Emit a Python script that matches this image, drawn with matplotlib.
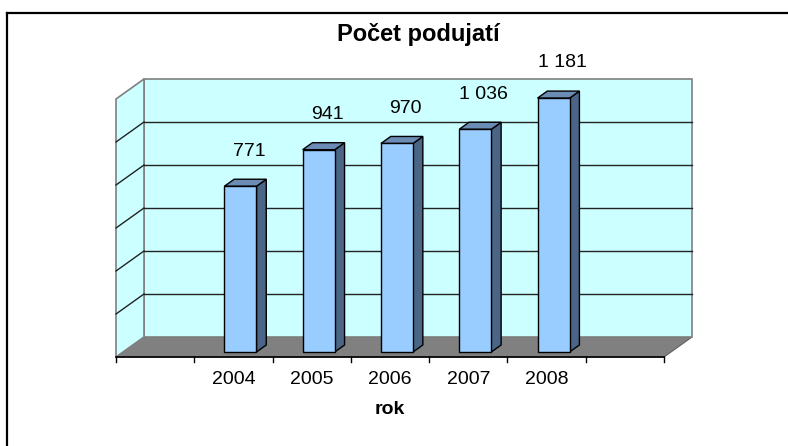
import matplotlib
matplotlib.use("Agg")
import matplotlib.pyplot as plt
from matplotlib.patches import Polygon
from matplotlib.lines import Line2D

plt.rcParams["font.family"] = ["Liberation Sans", "DejaVu Sans"]

title = "Počet podujatí"
x_title = "rok"
years = ["", "2004", "2005", "2006", "2007", "2008", ""]
counts = [None, 771, 941, 970, 1036, 1181, None]
labels = ["", "771", "941", "970", "1 036", "1 181", ""]
y_max = 1200
y_step = 200

W, H = 788, 446
fig = plt.figure(figsize=(W / 100, H / 100), dpi=100)

# back wall of the 3d box, in pixels
bx0, bx1, by0, by1 = 144, 692, 79, 337
ax = fig.add_axes([bx0 / W, 1 - by1 / H, (bx1 - bx0) / W, (by1 - by0) / H])
n = len(years)
ax.set_xlim(-0.5, n - 0.5)
ax.set_ylim(0, y_max)
ax.axis("off")

# depth offset: front plane is 28 px left and 20 px down of back wall
DX = -28 / ((bx1 - bx0) / n)
DY = -20 / (by1 - by0) * y_max


def p(x, v, t):
    return (x + DX * t, v + DY * t)


wall = "#CCFFFF"
edge = "#808080"
x0, x1 = -0.5, n - 0.5

# floor
ax.add_patch(Polygon([p(x0, 0, 0), p(x1, 0, 0), p(x1, 0, 1), p(x0, 0, 1)],
                     closed=True, fc="#808080", ec="#606060", lw=0.8,
                     clip_on=False, zorder=1))
# back wall
ax.add_patch(Polygon([p(x0, 0, 0), p(x1, 0, 0), p(x1, y_max, 0), p(x0, y_max, 0)],
                     closed=True, fc=wall, ec=edge, lw=1.2, clip_on=False, zorder=1))
# left wall
ax.add_patch(Polygon([p(x0, 0, 0), p(x0, y_max, 0), p(x0, y_max, 1), p(x0, 0, 1)],
                     closed=True, fc=wall, ec=edge, lw=1.2, clip_on=False, zorder=1))

# gridlines
for v in range(y_step, y_max, y_step):
    ax.plot([x0, x1], [v, v], color="#222222", lw=1, clip_on=False, zorder=2)
    a, b = p(x0, v, 0), p(x0, v, 1)
    ax.plot([a[0], b[0]], [a[1], b[1]], color="#222222", lw=1, clip_on=False, zorder=2)

# category axis on floor front edge
a, b = p(x0, 0, 1), p(x1, 0, 1)
ax.plot([a[0], b[0]], [a[1], b[1]], color="black", lw=1.2, clip_on=False, zorder=3)
tick = 5 / (by1 - by0) * y_max
for i in range(n + 1):
    tx, ty = p(i - 0.5, 0, 1)
    ax.plot([tx, tx], [ty, ty - tick], color="black", lw=1, clip_on=False, zorder=3)

# bars
tf, tb, hw = 0.75, 0.4, 0.205
front_c, side_c, top_c = "#99CCFF", "#4A6585", "#6B8CB5"
for i, v in enumerate(counts):
    if v is None:
        continue
    l, r = i - hw, i + hw
    front = [p(l, 0, tf), p(r, 0, tf), p(r, v, tf), p(l, v, tf)]
    side = [p(r, 0, tf), p(r, 0, tb), p(r, v, tb), p(r, v, tf)]
    top = [p(l, v, tf), p(r, v, tf), p(r, v, tb), p(l, v, tb)]
    for poly, c in ((side, side_c), (top, top_c), (front, front_c)):
        ax.add_patch(Polygon(poly, closed=True, fc=c, ec="black", lw=1,
                             clip_on=False, zorder=4))
    lx, ly = p(i, v, 0.45)
    ax.annotate(labels[i], (lx, ly), xytext=(0, 21), textcoords="offset points",
                ha="center", va="center", fontsize=14, zorder=5,
                annotation_clip=False)

# tick labels
for i, lab in enumerate(years):
    tx, ty = p(i, 0, 1)
    ax.annotate(lab, (tx, ty), xytext=(0, -16.5), textcoords="offset points",
                ha="center", va="center", fontsize=14, annotation_clip=False)

fig.text(418 / W, 1 - 34 / H, title, ha="center", va="center",
         fontsize=17, fontweight="bold")
fig.text(390 / W, 1 - 410 / H, x_title, ha="center", va="center",
         fontsize=14, fontweight="bold")

# outer chart border (right and bottom are cut off)
fig.add_artist(Line2D([7 / W, 7 / W], [0, 1 - 13 / H], color="black", lw=1.6,
                      transform=fig.transFigure))
fig.add_artist(Line2D([7 / W, 1], [1 - 13 / H, 1 - 13 / H], color="black", lw=1.6,
                      transform=fig.transFigure))

fig.savefig("out.png", dpi=100)
